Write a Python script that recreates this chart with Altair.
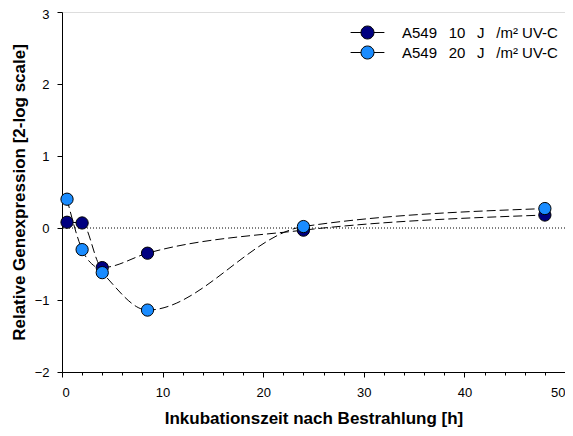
import altair as alt
import pandas as pd

time_h = [0.5, 2, 4, 8.5, 24, 48]
uv10 = [0.08, 0.07, -0.55, -0.35, -0.03, 0.18]
uv20 = [0.40, -0.30, -0.62, -1.14, 0.02, 0.27]
series_names = ["A549\u2002 10\u2002 J\u2002 /m² UV-C", "A549\u2002 20\u2002 J\u2002 /m² UV-C"]
series_colors = ["#000080", "#1a8cff"]

rows = []
for t, v in zip(time_h, uv10):
    rows.append({"t": t, "v": v, "s": series_names[0]})
for t, v in zip(time_h, uv20):
    rows.append({"t": t, "v": v, "s": series_names[1]})
df = pd.DataFrame(rows)

FONT = "Liberation Sans"

x_enc = alt.X("t:Q", scale=alt.Scale(domain=[0, 50], nice=False, zero=False),
              axis=alt.Axis(values=list(range(0, 51, 2)),
                            labelExpr="datum.value % 10 === 0 ? datum.label : ''",
                            tickSize={"condition": {"test": "datum.value % 10 === 0", "value": 5}, "value": 3},
                            title="Inkubationszeit nach Bestrahlung [h]",
                            grid=False, domainColor="black", tickColor="black",
                            labelFont=FONT, labelFontSize=13, labelColor="black",
                            labelPadding=9, titleFont=FONT, titleFontSize=17,
                            titleFontWeight="bold", titleColor="black", titlePadding=11))
y_enc = alt.Y("v:Q", scale=alt.Scale(domain=[-2, 3], nice=False, zero=False),
              axis=alt.Axis(values=[-2, -1, 0, 1, 2, 3], tickSize=5, format="d",
                            labelOffset={"condition": {"test": "datum.value === 3", "value": 2}, "value": 0},
                            title="Relative Genexpression [2-log scale]",
                            grid=False, domainColor="black", tickColor="black",
                            labelFont=FONT, labelFontSize=13, labelColor="black",
                            labelPadding=8, titleFont=FONT, titleFontSize=17,
                            titleFontWeight="bold", titleColor="black", titlePadding=6))

zero = alt.Chart(pd.DataFrame({"y": [0]})).mark_rule(
    color="black", strokeDash=[1, 2], strokeWidth=1
).encode(y="y:Q")

lines = alt.Chart(df).mark_line(
    color="black", strokeDash=[9, 4], strokeWidth=1, interpolate="monotone"
).encode(x=x_enc, y=y_enc, detail="s:N")

legend_path = ("M -2.6 0 L -1 0 M 1 0 L 2.6 0 "
               "M -1 0 A 1 1 0 1 1 1 0 A 1 1 0 1 1 -1 0 Z")

points = alt.Chart(df).mark_point(
    filled=True, size=150, stroke="black", strokeWidth=1, opacity=1
).encode(
    x=x_enc, y=y_enc,
    fill=alt.Fill("s:N", scale=alt.Scale(domain=series_names, range=series_colors),
                  legend=alt.Legend(title=None, orient="none", legendX=298, legendY=13,
                                    symbolType=legend_path, symbolSize=169,
                                    symbolStrokeColor="black", symbolStrokeWidth=1,
                                    labelFont=FONT, labelFontSize=15, labelColor="black",
                                    labelOffset=27, rowPadding=3, padding=0)),
)

chart = alt.layer(zero, lines, points).properties(
    width=503, height=360,
    autosize=alt.AutoSizeParams(type="none"),
    padding={"left": 54, "top": 4, "right": 0, "bottom": 56},
).configure_view(stroke="#808080", strokeWidth=1).configure(background="white")

chart.save("out.html", embed_options={"renderer": "svg", "actions": False})
